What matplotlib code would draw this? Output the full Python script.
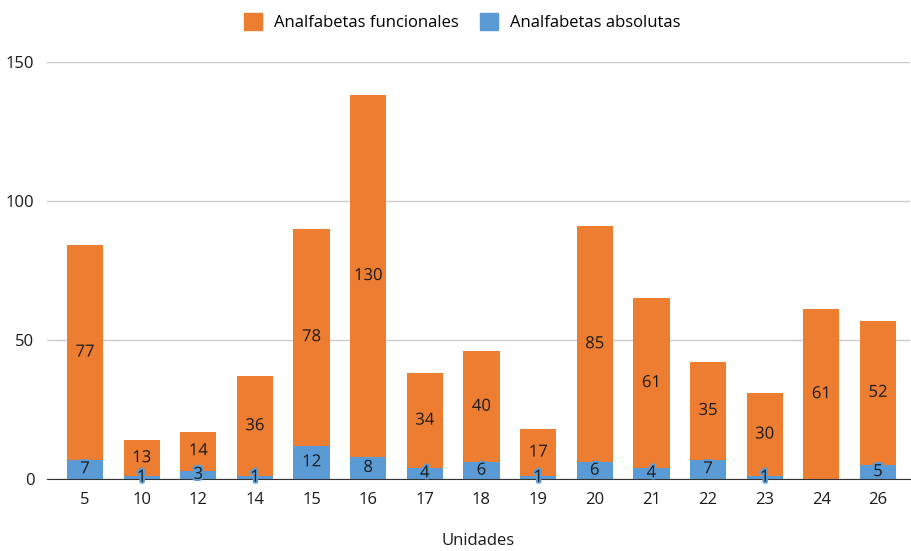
import matplotlib
matplotlib.use("Agg")
import matplotlib.pyplot as plt
import matplotlib.patheffects as pe
from matplotlib.patches import Patch

categories = ["5", "10", "12", "14", "15", "16", "17", "18", "19", "20", "21", "22", "23", "24", "26"]
absolutas = [7, 1, 3, 1, 12, 8, 4, 6, 1, 6, 4, 7, 1, 0, 5]
funcionales = [77, 13, 14, 36, 78, 130, 34, 40, 17, 85, 61, 35, 30, 61, 52]

orange = "#ED7D31"
blue = "#5B9BD5"

plt.rcParams['font.family'] = ['Open Sans', 'DejaVu Sans']

fig = plt.figure(figsize=(9.11, 5.51), dpi=100)
ax = fig.add_axes([47/911, 1-479/551, (910-47)/911, (479-62)/551])

x = list(range(len(categories)))
w = 0.64
ax.bar(x, absolutas, width=w, color=blue, zorder=3)
ax.bar(x, funcionales, width=w, bottom=absolutas, color=orange, zorder=3)

for i in x:
    a = absolutas[i]
    f = funcionales[i]
    if a > 0:
        ax.text(i, a/2, str(a), ha='center', va='center', fontsize=12, color='#1a1a1a', zorder=5,
                path_effects=[pe.withStroke(linewidth=3, foreground=blue)])
    if f > 0:
        ax.text(i, a + f/2, str(f), ha='center', va='center', fontsize=12, color='#1a1a1a', zorder=5,
                path_effects=[pe.withStroke(linewidth=3, foreground=orange)])

ax.set_ylim(0, 150)
ax.set_xlim(-0.671, 14.565)
ax.set_yticks([0, 50, 100, 150])
ax.set_xticks(x)
ax.set_xticklabels(categories)
ax.grid(axis='y', color='#cccccc', linewidth=1, zorder=0)
ax.set_axisbelow(True)
for s in ['top', 'right', 'left']:
    ax.spines[s].set_visible(False)
ax.spines['bottom'].set_color('#333333')
ax.spines['bottom'].set_zorder(4)
ax.tick_params(axis='both', length=0, labelsize=12, colors='#1a1a1a')
ax.tick_params(axis='x', pad=9)
ax.tick_params(axis='y', pad=9)
ax.set_xlabel("Unidades", fontsize=12, color='#1a1a1a')
ax.xaxis.set_label_coords(0.5, -(541-479)/417, transform=ax.transAxes)
ax.xaxis.label.set_va('center')

handles = [Patch(color=orange, label="Analfabetas funcionales"),
           Patch(color=blue, label="Analfabetas absolutas")]
fig.legend(handles=handles, loc='center', bbox_to_anchor=(462/911, 1-22/551), ncol=2, frameon=False,
           fontsize=12, handlelength=1.08, handleheight=1.2, handletextpad=0.7, columnspacing=1.3,
           borderaxespad=0, borderpad=0)

fig.savefig("out.png", dpi=100)
